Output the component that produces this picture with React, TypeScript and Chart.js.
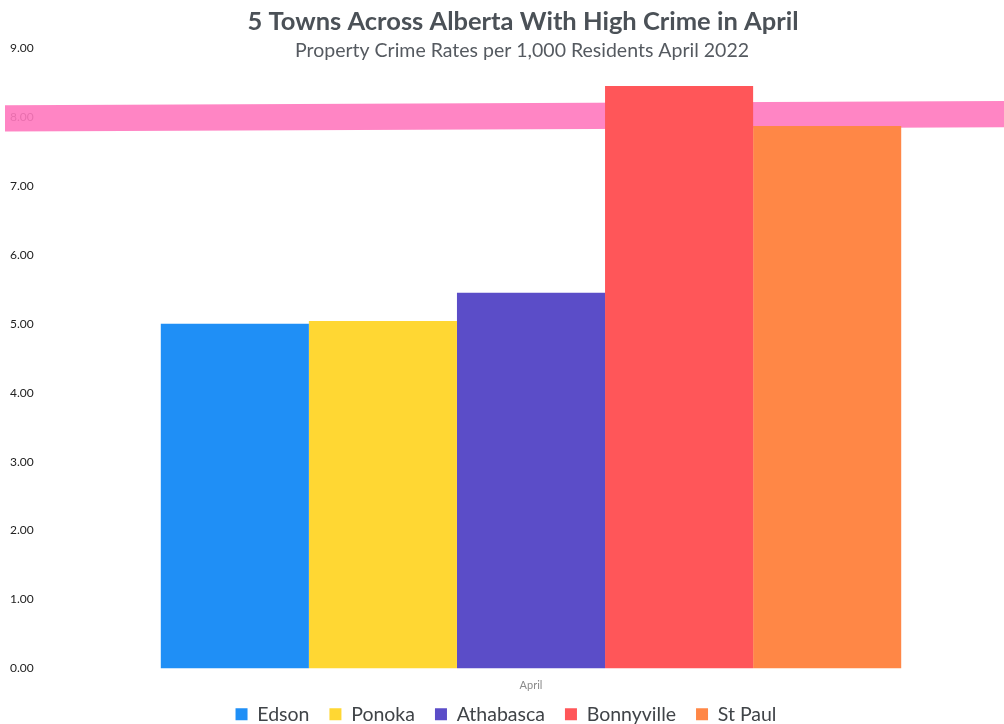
import React, { useEffect, useRef } from "react";
import { Chart, registerables } from "chart.js";

Chart.register(...registerables);

const TITLE = "5 Towns Across Alberta With High Crime in April";
const SUBTITLE = "Property Crime Rates per 1,000 Residents April 2022";
const categories = ["April"];
const towns = ["Edson", "Ponoka", "Athabasca", "Bonnyville", "St Paul"];
const values = [5.0, 5.04, 5.45, 8.45, 7.87];
const colors = ["#1f8ff6", "#ffd733", "#5b4dc8", "#ff5659", "#ff8746"];
const yTicks = [0, 1, 2, 3, 4, 5, 6, 7, 8, 9];
const bandValues = [7.98, 8.04]; // highlighter centre, left end and right end
const bandHalf = 0.19;

const titlePlugin = {
  id: "titlePlugin",
  afterDraw(chart: any) {
    const ctx = chart.ctx;
    ctx.save();
    ctx.textAlign = "center";
    ctx.textBaseline = "middle";
    ctx.fillStyle = "#4b5157";
    ctx.font = "bold 25.5px Lato";
    ctx.fillText(TITLE, 523, 22);
    ctx.font = "19.5px Lato";
    ctx.fillStyle = "#555a60";
    ctx.fillText(SUBTITLE, 522, 51);
    ctx.restore();
  },
};

const bandPlugin = {
  id: "bandPlugin",
  beforeDatasetsDraw(chart: any) {
    const ctx = chart.ctx;
    const y = chart.scales.y;
    const x0 = 5;
    const x1 = chart.width;
    ctx.save();
    ctx.fillStyle = "rgba(255,120,190,0.9)";
    ctx.beginPath();
    ctx.moveTo(x0, y.getPixelForValue(bandValues[0] + bandHalf));
    ctx.lineTo(x1, y.getPixelForValue(bandValues[1] + bandHalf));
    ctx.lineTo(x1, y.getPixelForValue(bandValues[1] - bandHalf));
    ctx.lineTo(x0, y.getPixelForValue(bandValues[0] - bandHalf));
    ctx.closePath();
    ctx.fill();
    ctx.restore();
  },
};

export default function App() {
  const ref = useRef<HTMLCanvasElement>(null);
  useEffect(() => {
    if (!ref.current) return;
    const chart = new Chart(ref.current, {
      type: "bar",
      data: {
        labels: categories,
        datasets: towns.map((t, i) => ({
          label: t,
          data: [values[i]],
          backgroundColor: colors[i],
          borderWidth: 0,
          categoryPercentage: 0.786,
          barPercentage: 1,
        })),
      },
      options: {
        animation: false,
        responsive: true,
        maintainAspectRatio: false,
        layout: { padding: { top: 48, left: 10, right: 2, bottom: -10 } },
        plugins: {
          title: { display: false },
          tooltip: { enabled: false },
          legend: {
            position: "bottom",
            labels: {
              font: { family: "Lato", size: 19.5 },
              color: "#404448",
              boxWidth: 12,
              boxHeight: 12,
              padding: 20,
            },
          },
        },
        scales: {
          x: {
            grid: { display: false },
            border: { display: false },
            afterFit(scale: any) {
              scale.height = 16;
            },
            ticks: {
              mirror: true,
              padding: -23.6,
              color: "#8a8a8a",
              font: { family: "Lato", size: 11 },
            },
          },
          y: {
            min: 0,
            max: 9,
            grid: { display: false },
            border: { display: false },
            afterFit(scale: any) {
              scale.width = 50;
            },
            afterBuildTicks(scale: any) {
              scale.ticks = yTicks.map((v) => ({ value: v }));
            },
            ticks: {
              crossAlign: "far",
              color: "#222",
              font: { family: "Lato", size: 12 },
              callback: (v: any) => Number(v).toFixed(2),
            },
          },
        },
      },
      plugins: [bandPlugin, titlePlugin],
    });
    return () => chart.destroy();
  }, []);
  return (
    <div style={{ position: "fixed", left: 0, top: 0, width: 1004, height: 724, background: "#fff" }}>
      <canvas ref={ref} />
    </div>
  );
}
